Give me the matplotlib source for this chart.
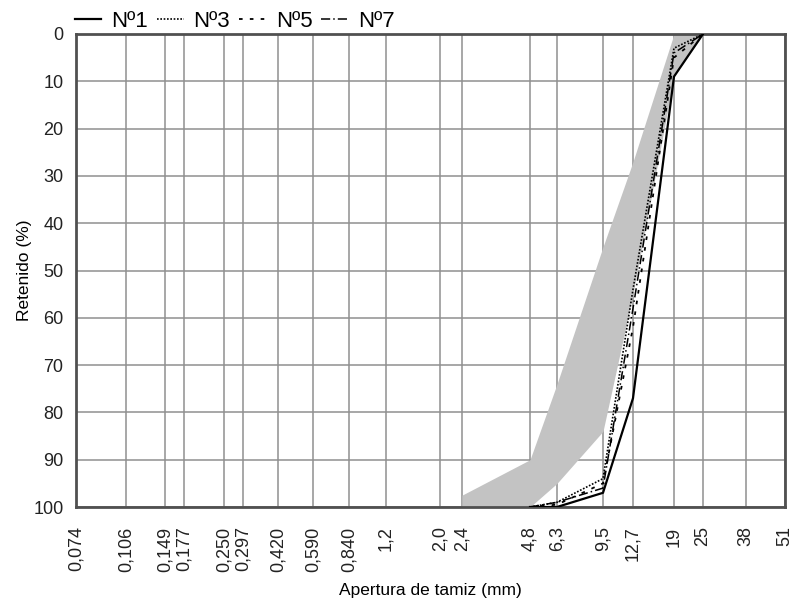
import numpy as np
import matplotlib
matplotlib.use("Agg")
import matplotlib.pyplot as plt
from matplotlib.lines import Line2D

plt.rcParams['font.family'] = ['Liberation Sans', 'DejaVu Sans']

# --- data -------------------------------------------------------------
sieves = [0.074, 0.106, 0.149, 0.177, 0.250, 0.297, 0.420, 0.590, 0.840,
          1.2, 2.0, 2.4, 4.8, 6.3, 9.5, 12.7, 19, 25, 38, 51]
sieve_labels = ['0,074', '0,106', '0,149', '0,177', '0,250', '0,297', '0,420',
                '0,590', '0,840', '1,2', '2,0', '2,4', '4,8', '6,3', '9,5',
                '12,7', '19', '25', '38', '51']

# gradation band (retained %)
band_x = [2.4, 4.8, 6.3, 9.5, 12.7, 19, 25]
band_upper = [97.5, 90, 74, 45, 27, 0, 0]      # left edge
band_lower = [100, 100, 95, 84, 55, 9, 0]     # right edge

curve_x = [4.8, 6.3, 9.5, 12.7, 19, 25]
n1 = [100, 100, 97, 77, 9, 0]
n3 = [100, 99, 94, 54, 3, 0]
n5 = [100, 99.5, 95, 62, 5, 0]
n7 = [100, 99, 96, 58, 4, 0]

yticks = [0, 10, 20, 30, 40, 50, 60, 70, 80, 90, 100]

# non-uniform sieve axis of the original chart (relative positions)
axis_pos = [76, 126, 165, 184, 224, 243, 278, 313, 349, 386, 440, 462,
            530, 557, 603, 633, 674, 703, 746, 785]

log_s = np.log10(sieves)


def fwd(x):
    x = np.asarray(x, dtype=float)
    return np.interp(np.log10(np.clip(x, 1e-9, None)), log_s, axis_pos)


def inv(v):
    v = np.asarray(v, dtype=float)
    return 10 ** np.interp(v, axis_pos, log_s)


fig = plt.figure(figsize=(7.94, 6.06), dpi=100)
ax = fig.add_axes([76 / 794, 1 - 507 / 606, (785 - 76) / 794, (507 - 34) / 606])
ax.set_xscale('function', functions=(fwd, inv))
ax.set_xlim(sieves[0], sieves[-1])
ax.set_ylim(100, 0)

ax.fill_between(band_x, band_upper, band_lower, color='#c3c3c3', lw=0, zorder=1)

for v in sieves:
    ax.axvline(v, color='#8f8f8f', lw=1.1, zorder=0.5)
for v in yticks:
    ax.axhline(v, color='#8f8f8f', lw=1.1, zorder=0.5)

ls1 = '-'
ls3 = (0, (1, 1))
ls5 = (0, (2, 4))
ls7 = (0, (6, 2, 1, 2))

ax.plot(curve_x, n1, color='black', lw=1.6, ls=ls1, zorder=3)
ax.plot(curve_x, n3, color='black', lw=1.2, ls=ls3, zorder=3)
ax.plot(curve_x, n5, color='black', lw=1.3, ls=ls5, zorder=3)
ax.plot(curve_x, n7, color='black', lw=1.1, ls=ls7, zorder=3)

ax.set_xticks(sieves)
ax.set_xticklabels(sieve_labels, rotation=90, fontsize=13, color='#222222')
ax.xaxis.set_minor_locator(matplotlib.ticker.NullLocator())
ax.set_yticks(yticks)
ax.set_yticklabels([str(v) for v in yticks], fontsize=13, color='#222222')
ax.tick_params(length=0)
ax.tick_params(axis='x', pad=14)
ax.tick_params(axis='y', pad=9)

for s in ax.spines.values():
    s.set_color('#505050')
    s.set_linewidth(2)

ax.set_ylabel('Retenido (%)', fontsize=12.5, labelpad=1)
ax.set_xlabel('Apertura de tamiz (mm)', fontsize=12.5, labelpad=8)

handles = [
    Line2D([], [], color='black', lw=1.6, ls=ls1),
    Line2D([], [], color='black', lw=1.2, ls=ls3),
    Line2D([], [], color='black', lw=1.3, ls=ls5),
    Line2D([], [], color='black', lw=1.1, ls=ls7),
]
ax.legend(handles, ['Nº1', 'Nº3', 'Nº5', 'Nº7'], ncol=4, loc='lower left',
          bbox_to_anchor=(-0.002, 1.005), frameon=False, fontsize=16,
          handlelength=1.2, handletextpad=0.45, columnspacing=0.4,
          borderaxespad=0, borderpad=0)

fig.savefig('out.png', dpi=100)
